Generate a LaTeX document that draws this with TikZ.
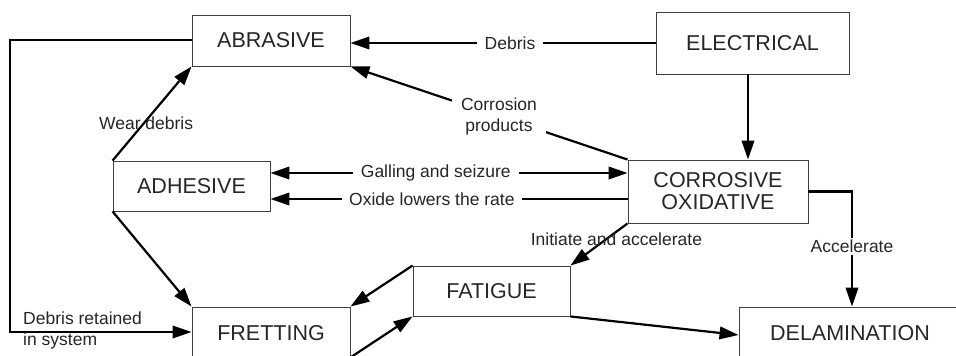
\documentclass[tikz,border=0pt]{standalone}
\usepackage{fontspec}
\setmainfont{Liberation Sans}
\usetikzlibrary{arrows.meta,calc}
\begin{document}
\begin{tikzpicture}[x=1pt,y=-1pt,
  box/.style={draw=black!75,line width=0.9pt,rectangle,inner sep=0pt,
    font=\fontsize{21.5}{24}\selectfont,text=black!85,align=center},
  lbl/.style={font=\fontsize{17.5}{21}\selectfont,text=black!85,align=center,inner sep=0pt},
  gap/.style={lbl,fill=white,inner xsep=8pt,inner ysep=1pt},
  arr/.style={line width=2.2pt,-{Triangle[length=19pt,width=12.5pt]}},
  arrboth/.style={line width=2.2pt,{Triangle[length=19pt,width=12.5pt]}-{Triangle[length=19pt,width=12.5pt]}}]
\useasboundingbox (0,0) rectangle (956,356);
\clip (0,0) rectangle (956,356);

% wear mechanisms
\node[box,minimum width=158pt,minimum height=51pt] (abrasive)   at (271,40.5)  {ABRASIVE};
\node[box,minimum width=193pt,minimum height=62pt] (electrical) at (752.5,43)  {ELECTRICAL};
\node[box,minimum width=157pt,minimum height=50pt] (adhesive)   at (191.5,186) {ADHESIVE};
\node[box,minimum width=180pt,minimum height=63pt] (corrosive)  at (718,191.5)
  {CORROSIVE\\[-2pt]OXIDATIVE};
\node[box,minimum width=157pt,minimum height=50pt] (fatigue)    at (491.5,291) {FATIGUE};
\node[box,minimum width=158pt,minimum height=52pt] (fretting)   at (271,333)   {FRETTING};
\node[box,minimum width=222pt,minimum height=52pt] (delam)      at (850,333)   {DELAMINATION};

% electrical
\draw[arr] (electrical.west) -- node[gap,pos=0.477] {Debris} (electrical.west -| abrasive.east);
\draw[arr] ([xshift=-4.5pt]electrical.south) -- ([xshift=-4.5pt]electrical.south |- corrosive.north);

% corrosive / oxidative
\draw[arr] (corrosive.north west) -- node[gap,pos=0.464,inner xsep=9pt,inner ysep=2pt]
  {Corrosion\\products} (abrasive.south east);
\draw[arrboth] ([yshift=13pt]adhesive.east) --
  node[gap,pos=0.463] {Galling and seizure} ([yshift=13pt]adhesive.east -| corrosive.west);
\draw[arr] ([yshift=-13pt]adhesive.east -| corrosive.west) --
  node[gap,pos=0.548,inner xsep=7pt] {Oxide lowers the rate} ([yshift=-13pt]adhesive.east);
\draw[arr] (corrosive.south west) --
  node[lbl,pos=0.37,xshift=10pt] {Initiate and accelerate} (fatigue.north east);
\draw[arr] (corrosive.east) -| node[gap,pos=0.739,inner xsep=2pt,inner ysep=2pt] {Accelerate}
  ([xshift=2pt]delam.north);

% adhesive
\draw[arr] (adhesive.north west) -- node[lbl,pos=0.4,xshift=2pt] {Wear debris} (abrasive.south west);
\draw[arr] (adhesive.south west) -- (fretting.north west);

% debris loop from abrasive back to fretting
\coordinate (loop) at (10,40);
\draw[arr] (abrasive.west |- loop) -- (loop) |- ([yshift=1pt]fretting.west);
\node[lbl,align=left,anchor=west] (retained) at (23,330.5) {Debris retained\\in system};

% fretting / fatigue / delamination
\draw[arr] (fatigue.north west) -- (fretting.north east);
\draw[arr] ([yshift=2pt]fretting.south east) -- (fatigue.south west);
\draw[arr] (fatigue.south east) -- ([yshift=-2pt]delam.west);
\end{tikzpicture}
\end{document}
